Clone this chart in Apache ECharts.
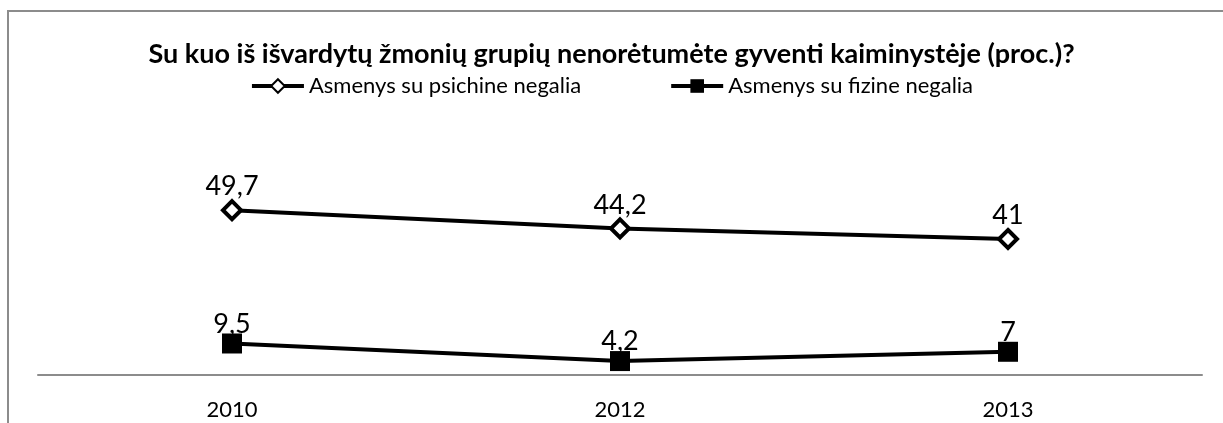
<!DOCTYPE html>
<html>
<head>
<meta charset="utf-8">
<script src="https://cdn.jsdelivr.net/npm/echarts@6/dist/echarts.min.js"></script>
<style>
html,body{margin:0;padding:0;background:#fff;}
#chart{width:1223px;height:423px;}
</style>
</head>
<body>
<div id="chart"></div>
<script>
var years = ['2010', '2012', '2013'];
var psichine = [49.7, 44.2, 41];
var fizine = [9.5, 4.2, 7];
var seriesNames = ['Asmenys su psichine negalia', 'Asmenys su fizine negalia'];

var chart = echarts.init(document.getElementById('chart'));
var font = 'Lato, "Open Sans", sans-serif';

function fmt(p) {
    return String(p.value).replace('.', ',');
}

chart.setOption({
    animation: false,
    title: {
        text: 'Su kuo iš išvardytų žmonių grupių nenorėtumėte gyventi kaiminystėje (proc.)?',
        left: 'center',
        top: 36,
        textStyle: {fontFamily: font, fontSize: 27, fontWeight: 'bold', color: '#000'}
    },
    legend: {
        top: 70,
        left: 'center',
        itemWidth: 52,
        itemHeight: 17,
        itemGap: 88,
        lineStyle: {width: 4},
        textStyle: {fontFamily: font, fontSize: 22, color: '#000'},
        data: seriesNames
    },
    graphic: [{
        type: 'rect',
        shape: {x: 8, y: 11, width: 1400, height: 600},
        style: {fill: 'none', stroke: '#8c8c8c', lineWidth: 2}
    }],
    grid: {left: 38, right: 21, top: 176, bottom: 48},
    xAxis: {
        type: 'category',
        data: years,
        boundaryGap: true,
        axisLine: {lineStyle: {color: '#8c8c8c', width: 2}},
        axisTick: {show: false},
        axisLabel: {fontFamily: font, fontSize: 22, color: '#000', margin: 24}
    },
    yAxis: {
        type: 'value',
        min: 0,
        max: 60,
        show: false,
        splitLine: {show: false}
    },
    series: [{
        name: seriesNames[0],
        type: 'line',
        data: psichine,
        symbol: 'diamond',
        symbolSize: 18,
        itemStyle: {color: '#fff', borderColor: '#000', borderWidth: 4},
        lineStyle: {color: '#000', width: 4},
        label: {show: true, position: 'top', distance: -1, formatter: fmt,
            fontFamily: font, fontSize: 27, color: '#000'}
    }, {
        name: seriesNames[1],
        type: 'line',
        data: fizine,
        symbol: 'rect',
        symbolSize: 20,
        itemStyle: {color: '#000', borderColor: '#000', borderWidth: 0},
        lineStyle: {color: '#000', width: 4},
        label: {show: true, position: 'top', distance: -4, formatter: fmt,
            fontFamily: font, fontSize: 27, color: '#000'}
    }]
});
</script>
</body>
</html>
